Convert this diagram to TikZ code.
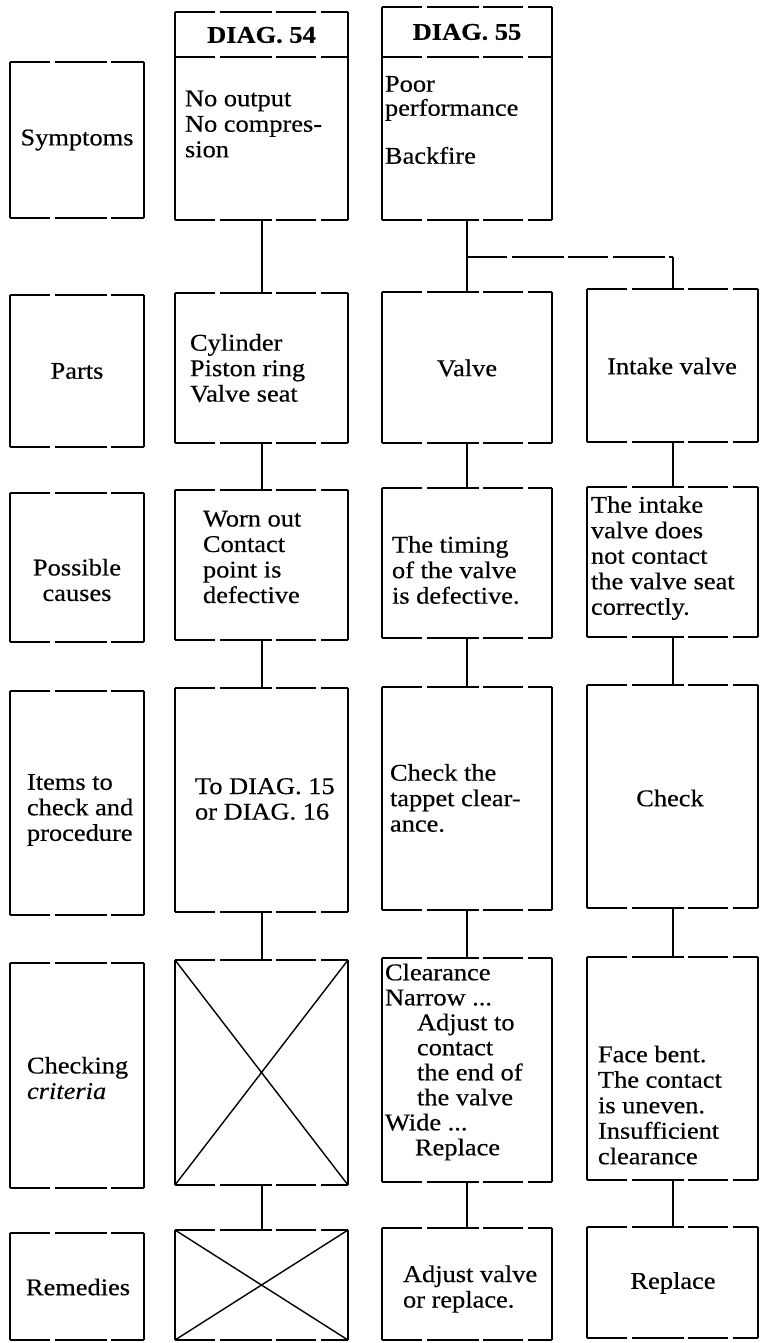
\documentclass[tikz,border=0pt]{standalone}
\usepackage{fontspec}
\setmainfont{Liberation Serif}[FakeStretch=1.1, FakeBold=0.4]
\usetikzlibrary{fit}
\newcommand{\tsbox}[5]{%
  \path (#2,#3) coordinate (#1-nw) (#4,#5) coordinate (#1-se);
  \node[fit=(#1-nw)(#1-se), inner sep=0pt, outer sep=0pt] (#1) {};
  \draw[vedge] (#1.north west) -- (#1.south west) (#1.north east) -- (#1.south east);
  \draw[hedge] (#1.north west) -- (#1.north east) (#1.south west) -- (#1.south east);
}
\begin{document}
\begin{tikzpicture}[x=1pt,y=-1pt,
  every node/.style={inner sep=0pt, outer sep=0pt},
  vedge/.style={line width=2pt, line cap=square},
  hedge/.style={line width=2pt, dash pattern=on 40pt off 5pt on 52pt off 4pt},
  conn/.style={line width=2pt},
  xline/.style={line width=1.4pt},
  txt/.style={font=\fontsize{24}{25.5}\selectfont, align=left},
  ctxt/.style={font=\fontsize{24}{25.5}\selectfont, align=center},
  hdr/.style={font=\fontsize{24}{25.5}\selectfont\bfseries, align=center},
]
\useasboundingbox (0,0) rectangle (760,1343);

% ---- column 1: labels
\tsbox{sym}{10}{62}{144}{218}
\tsbox{parts}{10}{295}{144}{447}
\tsbox{causes}{10}{493}{144}{642}
\tsbox{items}{10}{691}{144}{915}
\tsbox{crit}{10}{963}{144}{1188}
\tsbox{rem}{10}{1233}{144}{1340}

% ---- column 2: DIAG 54
\tsbox{d54}{175}{12}{348}{220}
\tsbox{cyl}{175}{293}{348}{443}
\tsbox{worn}{175}{490}{348}{640}
\tsbox{todiag}{175}{688}{348}{912}
\tsbox{xa}{175}{960}{348}{1185}
\tsbox{xb}{175}{1230}{348}{1340}

% ---- column 3: DIAG 55 / valve
\tsbox{d55}{382}{7}{552}{220}
\tsbox{valve}{382}{292}{552}{443}
\tsbox{timing}{382}{488}{552}{638}
\tsbox{tappet}{382}{687}{552}{910}
\tsbox{clear}{382}{958}{552}{1182}
\tsbox{adjust}{382}{1228}{552}{1340}

% ---- column 4: intake valve
\tsbox{intake}{587}{289}{758}{442}
\tsbox{notc}{587}{487}{758}{637}
\tsbox{check}{587}{685}{758}{908}
\tsbox{face}{587}{957}{758}{1180}
\tsbox{repl}{587}{1227}{758}{1338}

% header dividers
\coordinate (d54div) at (175,57);
\coordinate (d55div) at (382,57);
\draw[hedge] (d54div) -- (d54div -| d54.east);
\draw[hedge] (d55div) -- (d55div -| d55.east);

% crossed boxes
\draw[xline] (xa.north west) -- (xa.south east) (xa.north east) -- (xa.south west);
\draw[xline] (xb.north west) -- (xb.south east) (xb.north east) -- (xb.south west);

% ---- texts
\node[ctxt] (tsym) at (77,140) {Symptoms};
\node[ctxt] (tparts) at (77,371) {Parts};
\node[ctxt] (tcauses) at (77,580) {Possible\\causes};
\node[txt, anchor=west] (titems) at (27,810) {Items to\\check and\\procedure};
\node[txt, anchor=west] (tcrit) at (27,1078) {Checking\\\textit{criteria}};
\node[ctxt] (trem) at (78,1287) {Remedies};

\node[hdr] (h54) at (261.5,35) {DIAG. 54};
\node[txt, anchor=west] (t54) at (185,124) {No output\\No compres-\\sion};
\node[txt, anchor=west] (tcyl) at (190,368) {Cylinder\\Piston ring\\Valve seat};
\node[txt, anchor=west] (tworn) at (203,557) {Worn out\\Contact\\point is\\defective};
\node[txt, anchor=west] (ttodiag) at (195,799) {To DIAG. 15\\or DIAG. 16};

\node[hdr] (h55) at (467,32) {DIAG. 55};
\node[txt, anchor=west, font=\fontsize{24}{24}\selectfont] (t55) at (385,120) {Poor\\performance\\[24pt]Backfire};
\node[ctxt] (tvalve) at (467,368) {Valve};
\node[txt, anchor=west] (ttiming) at (392,570) {The timing\\of the valve\\is defective.};
\node[txt, anchor=west] (ttappet) at (390,798) {Check the\\tappet clear-\\ance.};
\node[txt, anchor=west, font=\fontsize{24}{25}\selectfont] (tclear) at (385,1062) {Clearance\\Narrow ...\\\hspace*{32pt}Adjust to\\\hspace*{32pt}contact\\\hspace*{32pt}the end of\\\hspace*{32pt}the valve\\Wide ...\\\hspace*{30pt}Replace};
\node[txt, anchor=west] (tadjust) at (403,1289) {Adjust valve\\or replace.};

\node[ctxt] (tintake) at (672,366) {Intake valve};
\node[txt, anchor=west] (tnotc) at (591,558) {The intake\\valve does\\not contact\\the valve seat\\correctly.};
\node[ctxt] (tcheck) at (670,798) {Check};
\node[txt, anchor=west] (tface) at (598,1105) {Face bent.\\The contact\\is uneven.\\Insufficient\\clearance};
\node[ctxt] (trepl) at (673,1283) {Replace};

% ---- connectors
\draw[conn] (d54.south) -- (cyl.north);
\draw[conn] (cyl.south) -- (worn.north);
\draw[conn] (worn.south) -- (todiag.north);
\draw[conn] (todiag.south) -- (xa.north);
\draw[conn] (xa.south) -- (xb.north);

\coordinate (br) at (467,257);
\draw[conn] (d55.south) -- (valve.north);
\draw[hedge] (br) -- (br -| intake.north);
\draw[conn] (br -| intake.north) -- (intake.north);
\draw[conn] (valve.south) -- (timing.north);
\draw[conn] (timing.south) -- (tappet.north);
\draw[conn] (tappet.south) -- (clear.north);
\draw[conn] (clear.south) -- (adjust.north);

\draw[conn] (intake.south) -- (notc.north);
\draw[conn] (notc.south) -- (check.north);
\draw[conn] (check.south) -- (face.north);
\draw[conn] (face.south) -- (repl.north);
\end{tikzpicture}
\end{document}
